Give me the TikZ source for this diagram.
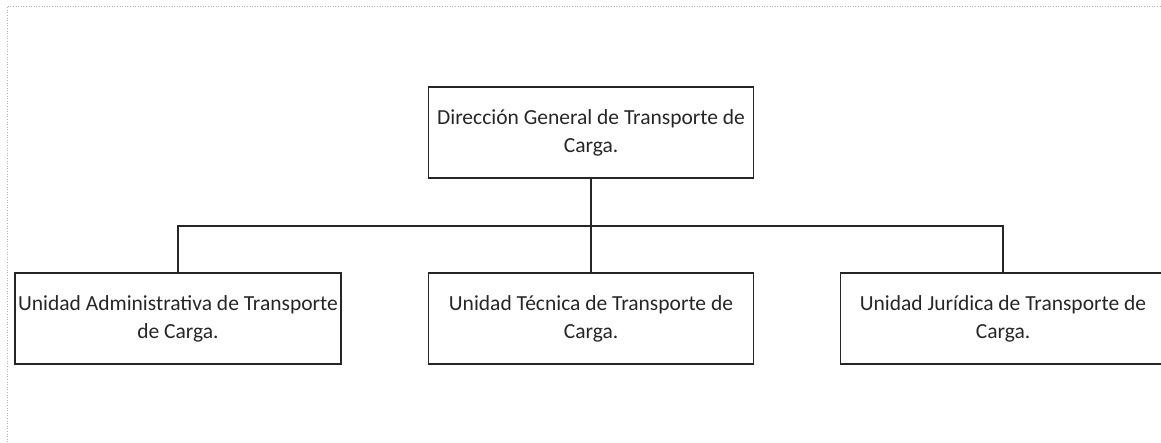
\documentclass[tikz,border=0pt]{standalone}
\usepackage{fontspec}
\setmainfont{Carlito}
\begin{document}
\begin{tikzpicture}[x=1pt,y=-1pt,
  orgbox/.style={draw=black!85,line width=1.4pt,rectangle,minimum width=325pt,minimum height=91pt,
    align=center,inner sep=0pt,font=\fontsize{21.5}{28}\selectfont,text=black!85},
  link/.style={draw=black!85,line width=1.4pt},
  scanedge/.style={draw=black!30,line width=0.6pt,dotted}]
\useasboundingbox (0,0) rectangle (1161,442);
\clip (0,0) rectangle (1161,442);
\draw[scanedge] (7,442) -- (7,6) -- (1161,6);
\node[orgbox] (top) at (591,132.5) {Dirección General de Transporte de\\Carga.};
\node[orgbox,minimum width=326pt] (adm) at (178,318.5) {Unidad Administrativa de Transporte\\de Carga.};
\node[orgbox] (tec) at (591,318.5) {Unidad Técnica de Transporte de\\Carga.};
\node[orgbox] (jur) at (1003,318.5) {Unidad Jurídica de Transporte de\\Carga.};
\coordinate (bus) at (591,226);
\draw[link] (top.south) -- (bus);
\draw[link] (adm.north) |- (bus) -| (jur.north);
\draw[link] (bus) -- (tec.north);
\end{tikzpicture}
\end{document}
